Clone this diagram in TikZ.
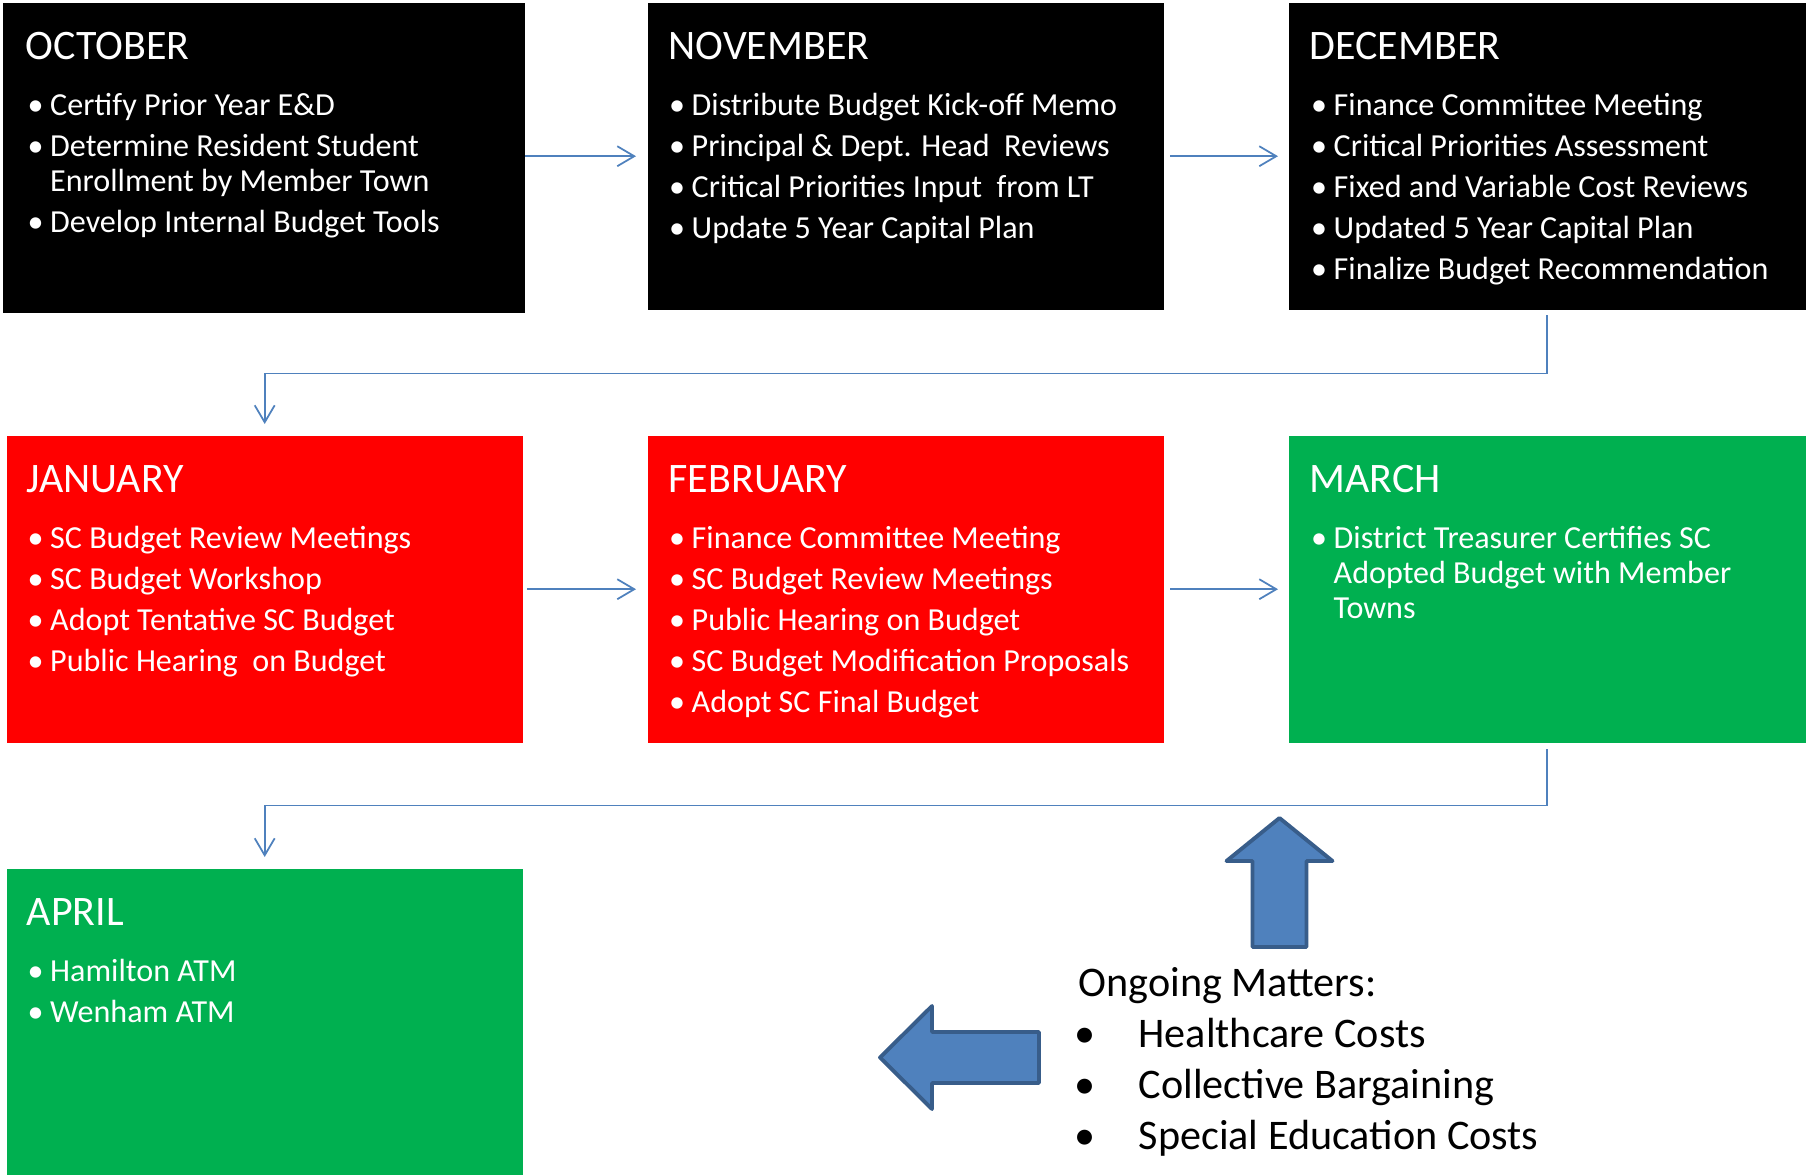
\documentclass[tikz,border=0pt]{standalone}
\usepackage{fontspec}
\setmainfont{Carlito}
\usetikzlibrary{arrows.meta}
\definecolor{flowblue}{HTML}{4F81BD}
\definecolor{edgeblue}{HTML}{385D8A}
\definecolor{monthred}{HTML}{FF0000}
\definecolor{monthgreen}{HTML}{00B050}
\newcommand{\mbul}{\makebox[0.225cm][l]{\textbullet}}
\newcommand{\mind}{\hspace*{0.225cm}}
\newcommand{\obul}{\makebox[0.6cm][l]{\hspace*{-0.04cm}\textbullet}}

\begin{document}
\begin{tikzpicture}[
  monthbox/.style={rectangle, anchor=north west, inner sep=0pt, minimum width=5.16cm,
    minimum height=3.07cm},
  monthtitle/.style={anchor=base west, inner sep=0pt, text=white,
    font=\fontsize{11.95}{14}\selectfont},
  monthitems/.style={anchor=north west, inner sep=0pt, text=white, align=left,
    font=\fontsize{9.13}{9.96}\selectfont, execute at begin node={\rule{0pt}{8pt}}},
  flowarrow/.style={-{Straight Barb[length=1.7mm,width=2mm]}, draw=flowblue, line width=0.5pt},
  bigarrow/.style={fill=flowblue, draw=edgeblue, line width=1.1pt, line join=round}
]
  \useasboundingbox (0,0) rectangle (18.06,-11.74);

  % autumn
  \node[monthbox, fill=black, minimum width=5.22cm, minimum height=3.10cm] (oct) at (0.02,-0.02) {};
  \node[monthtitle] (octtitle) at ([shift={(0.23,-0.575)}]oct.north west) {OCTOBER};
  \node[monthitems] (octitems) at ([shift={(0.25,-0.907)}]oct.north west)
    {\mbul Certify Prior Year E\&D\\[0.06cm]
     \mbul Determine Resident Student\\ \mind Enrollment by Member Town\\[0.06cm]
     \mbul Develop Internal Budget Tools};

  \node[monthbox, fill=black] (nov) at (6.47,-0.02) {};
  \node[monthtitle] (novtitle) at ([shift={(0.21,-0.575)}]nov.north west) {NOVEMBER};
  \node[monthitems] (novitems) at ([shift={(0.215,-0.907)}]nov.north west)
    {\mbul Distribute Budget Kick-off Memo\\[0.06cm]
     \mbul Principal \& Dept. Head\ \ Reviews\\[0.06cm]
     \mbul Critical Priorities Input\ \ from LT\\[0.06cm]
     \mbul Update 5 Year Capital Plan};

  \node[monthbox, fill=black, minimum width=5.17cm] (dec) at (12.88,-0.02) {};
  \node[monthtitle] (dectitle) at ([shift={(0.21,-0.575)}]dec.north west) {DECEMBER};
  \node[monthitems] (decitems) at ([shift={(0.225,-0.907)}]dec.north west)
    {\mbul Finance Committee Meeting\\[0.06cm]
     \mbul Critical Priorities Assessment\\[0.06cm]
     \mbul Fixed and Variable Cost Reviews\\[0.06cm]
     \mbul Updated 5 Year Capital Plan\\[0.06cm]
     \mbul Finalize Budget Recommendation};

  % winter
  \node[monthbox, fill=monthred] (jan) at (0.06,-4.35) {};
  \node[monthtitle] (jantitle) at ([shift={(0.2,-0.575)}]jan.north west) {JANUARY};
  \node[monthitems] (janitems) at ([shift={(0.21,-0.907)}]jan.north west)
    {\mbul SC Budget Review Meetings\\[0.06cm]
     \mbul SC Budget Workshop\\[0.06cm]
     \mbul Adopt Tentative SC Budget\\[0.06cm]
     \mbul Public Hearing\ \ on Budget};

  \node[monthbox, fill=monthred] (feb) at (6.47,-4.35) {};
  \node[monthtitle] (febtitle) at ([shift={(0.21,-0.575)}]feb.north west) {FEBRUARY};
  \node[monthitems] (febitems) at ([shift={(0.215,-0.907)}]feb.north west)
    {\mbul Finance Committee Meeting\\[0.06cm]
     \mbul SC Budget Review Meetings\\[0.06cm]
     \mbul Public Hearing on Budget\\[0.06cm]
     \mbul SC Budget Modification Proposals\\[0.06cm]
     \mbul Adopt SC Final Budget};

  \node[monthbox, fill=monthgreen, minimum width=5.17cm] (mar) at (12.88,-4.35) {};
  \node[monthtitle] (martitle) at ([shift={(0.21,-0.575)}]mar.north west) {MARCH};
  \node[monthitems] (maritems) at ([shift={(0.225,-0.907)}]mar.north west)
    {\mbul District Treasurer Certifies SC\\ \mind Adopted Budget with Member\\ \mind Towns};

  % spring
  \node[monthbox, fill=monthgreen, minimum height=3.06cm] (apr) at (0.06,-8.68) {};
  \node[monthtitle] (aprtitle) at ([shift={(0.2,-0.575)}]apr.north west) {APRIL};
  \node[monthitems] (apritems) at ([shift={(0.21,-0.907)}]apr.north west)
    {\mbul Hamilton ATM\\[0.06cm]
     \mbul Wenham ATM};

  \node[anchor=north west, inner sep=0pt, align=left, font=\fontsize{12}{14.46}\selectfont]
    (ongoing) at (10.78,-9.591)
    {\rule{0pt}{10.5pt}Ongoing Matters:\\
     \obul Healthcare Costs\\
     \obul Collective Bargaining\\
     \obul Special Education Costs};

  \draw[flowarrow, shorten >=0.11cm] (oct.east |- nov.west) -- (nov.west);
  \draw[flowarrow, shorten <=0.06cm, shorten >=0.10cm] (nov.east) -- (dec.west);
  \draw[flowarrow, shorten <=0.05cm, shorten >=0.11cm] (dec.south) -- ++(0,-0.63) -| (jan.north);
  \draw[flowarrow, shorten <=0.04cm, shorten >=0.11cm] (jan.east) -- (feb.west);
  \draw[flowarrow, shorten <=0.06cm, shorten >=0.10cm] (feb.east) -- (mar.west);
  \draw[flowarrow, shorten <=0.06cm, shorten >=0.11cm] (mar.south) -- ++(0,-0.62) -| (apr.north);

  \draw[bigarrow] (12.795,-8.18) -- (13.325,-8.61) -- (13.065,-8.61) -- (13.065,-9.47)
    -- (12.525,-9.47) -- (12.525,-8.61) -- (12.265,-8.61) -- cycle;
  \draw[bigarrow] (8.80,-10.575) -- (9.32,-10.06) -- (9.32,-10.32) -- (10.39,-10.32)
    -- (10.39,-10.83) -- (9.32,-10.83) -- (9.32,-11.09) -- cycle;
\end{tikzpicture}
\end{document}
